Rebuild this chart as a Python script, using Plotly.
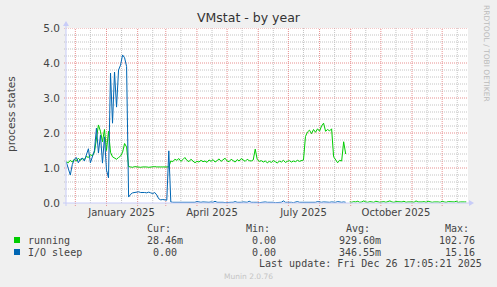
import plotly.graph_objects as go
import pandas as pd

# ---------------- data ----------------
START = "2024-11-22"
STEP_DAYS = 2
X_RANGE = ["2024-11-21 17:05:21", "2025-12-26 17:05:21"]

running = [
    1.18, 1.15, 1.22, 1.17, 1.25, 1.20, 1.28, 1.22, 1.27, 1.24,
    1.33, 1.30, 1.38, 1.35, 1.45, 1.90, 2.23, 2.05, 1.75, 2.10,
    1.50, 2.05, 1.45, 1.32, 1.28, 1.25, 1.30, 1.34, 1.45, 1.70,
    1.60, 1.04, 1.03, 1.02, 1.04, 1.03, 1.03, 1.02, 1.03, 1.04,
    1.03, 1.02, 1.03, 1.03, 1.04, 1.03, 1.02, 1.03, 1.03, 1.03,
    1.02, 1.03, 1.20, 1.18, 1.25, 1.22, 1.27, 1.19, 1.24, 1.30,
    1.22, 1.18, 1.25, 1.21, 1.15, 1.19, 1.17, 1.22, 1.18, 1.20,
    1.16, 1.23, 1.19, 1.24, 1.17, 1.21, 1.26, 1.19, 1.23, 1.28,
    1.20, 1.18, 1.25, 1.22, 1.17, 1.24, 1.20, 1.27, 1.22, 1.19,
    1.25, 1.21, 1.20, 1.23, 1.54, 1.24, 1.19, 1.21, 1.17, 1.20,
    1.15, 1.19, 1.16, 1.21, 1.18, 1.14, 1.20, 1.17, 1.22, 1.16,
    1.19, 1.21, 1.17, 1.20, 1.18, 1.22, 1.19, 1.21, 1.23, 1.90,
    2.03, 2.08, 1.98, 2.10, 2.02, 2.12, 2.05, 2.20, 2.28, 2.05,
    2.10, 2.06, 2.12, 1.32, 1.22, 1.15, 1.22, 1.20, 1.75, 1.40,
    None, 0.03, 0.02, 0.04, 0.03, 0.05, 0.02, 0.03, 0.06, 0.03,
    0.02, 0.04, 0.03, 0.02, 0.05, 0.03, 0.02, 0.03, 0.04, 0.02,
    0.03, 0.06, 0.03, 0.02, 0.04, 0.03, 0.02, 0.03, 0.05, 0.02,
    0.03, 0.04, 0.03, 0.02, 0.06, 0.03, 0.02, 0.03, 0.04, 0.02,
    0.05, 0.03, 0.02, 0.03, 0.04, 0.03, 0.02, 0.05, 0.03, 0.02,
    0.04, 0.03, 0.02, 0.03, 0.05, 0.02, 0.03, 0.04, 0.03, 0.03,
]

io_sleep = [
    1.17, 1.00, 0.80, 1.10, 1.25, 1.30, 1.15, 1.25, 1.28, 1.20,
    1.40, 1.55, 1.15, 1.30, 1.50, 2.14, 1.43, 1.94, 1.14, 1.89,
    0.94, 0.72, 3.71, 2.28, 3.74, 2.74, 3.80, 3.94, 4.23, 4.15,
    3.90, 0.17, 0.25, 0.29, 0.30, 0.31, 0.32, 0.30, 0.31, 0.30,
    0.29, 0.31, 0.29, 0.27, 0.30, 0.23, 0.12, 0.09, 0.10, 0.08,
    0.08, 1.49, 0.03, 0.02, 0.02, 0.03, 0.02, 0.01, 0.02, 0.03,
    0.02, 0.03, 0.02, 0.01, 0.02, 0.04, 0.02, 0.02, 0.03, 0.02,
    0.01, 0.02, 0.03, 0.02, 0.05, 0.02, 0.02, 0.03, 0.02, 0.01,
    0.02, 0.03, 0.02, 0.02, 0.04, 0.02, 0.01, 0.02, 0.03, 0.02,
    0.02, 0.05, 0.02, 0.02, 0.03, 0.02, 0.01, 0.02, 0.02, 0.03,
    0.02, 0.02, 0.04, 0.02, 0.01, 0.02, 0.03, 0.02, 0.06, 0.02,
    0.02, 0.03, 0.02, 0.01, 0.02, 0.04, 0.02, 0.02, 0.03, 0.02,
    0.02, 0.01, 0.02, 0.03, 0.02, 0.04, 0.02, 0.02, 0.03, 0.02,
    0.01, 0.02, 0.03, 0.02, 0.02, 0.04, 0.02, 0.02, 0.03, 0.02,
    None, None, None, None, None, None, None, None, None, None,
    None, None, None, None, None, None, None, None, None, None,
    None, None, None, None, None, None, None, None, None, None,
    None, None, None, None, None, None, None, None, None, None,
    None, None, None, None, None, None, None, None, None, None,
    None, None, None, None, None, None, None, None, None, None,
]

tick_dates = ["2025-01-16", "2025-04-16", "2025-07-16", "2025-10-16"]
tick_labels = ["January 2025", "April 2025", "July 2025", "October 2025"]

month_starts = ["2024-12-01", "2025-01-01", "2025-02-01", "2025-03-01", "2025-04-01",
                "2025-05-01", "2025-06-01", "2025-07-01", "2025-08-01", "2025-09-01",
                "2025-10-01", "2025-11-01", "2025-12-01"]
mid_months = ["2024-12-16", "2025-01-16", "2025-02-16", "2025-03-16", "2025-04-16",
              "2025-05-16", "2025-06-16", "2025-07-16", "2025-08-16", "2025-09-16",
              "2025-10-16", "2025-11-16", "2025-12-16"]
y_major = [1.0, 2.0, 3.0, 4.0, 5.0]
y_minor = [0.2, 0.4, 0.6, 0.8, 1.2, 1.4, 1.6, 1.8, 2.2, 2.4, 2.6, 2.8,
           3.2, 3.4, 3.6, 3.8, 4.2, 4.4, 4.6, 4.8]

legend_names = ["running", "I/O sleep"]
legend_colors = ["#00CC00", "#0066B3"]
legend_cur = ["28.46m", "0.00 "]
legend_min = ["0.00", "0.00"]
legend_avg = ["929.60m", "346.55m"]
legend_max = ["102.76", "15.16"]
legend_headers = ["Cur:", "Min:", "Avg:", "Max:"]

# ---------------- layout helpers ----------------
W, H = 497, 287
L, R, T, B = 66, 29, 28, 84
PW, PH = W - L - R, H - T - B


def px(x):
    return (x - L) / PW


def py(y):
    return (H - B - y) / PH


dates = pd.date_range(START, periods=len(running), freq=f"{STEP_DAYS}D")

fig = go.Figure()
fig.add_trace(go.Scatter(x=dates, y=running, mode="lines",
                         line=dict(color=legend_colors[0], width=1),
                         name=legend_names[0], hoverinfo="skip"))
fig.add_trace(go.Scatter(x=dates, y=io_sleep, mode="lines",
                         line=dict(color=legend_colors[1], width=1),
                         name=legend_names[1], hoverinfo="skip"))

FONT = "DejaVu Sans"
MONO = "DejaVu Sans Mono"
TXT = "#444444"
RED = "#E89090"
GREY = "#C4C4C4"
AXIS = "#C8CCF8"
DOT = "1px,1px"

shapes = []
for v in y_minor:
    shapes.append(dict(type="line", xref="paper", yref="y", x0=px(64), x1=1, y0=v, y1=v,
                       line=dict(color=GREY, width=1, dash=DOT), layer="below"))
for d in mid_months:
    shapes.append(dict(type="line", xref="x", yref="paper", x0=d, x1=d, y0=0, y1=1,
                       line=dict(color=GREY, width=1, dash=DOT), layer="below"))
for v in y_major:
    shapes.append(dict(type="line", xref="paper", yref="y", x0=px(64), x1=1, y0=v, y1=v,
                       line=dict(color=RED, width=1, dash=DOT), layer="below"))
for d in month_starts:
    shapes.append(dict(type="line", xref="x", yref="paper", x0=d, x1=d, y0=py(206), y1=1,
                       line=dict(color=RED, width=1, dash=DOT), layer="below"))
# axes with arrows
shapes.append(dict(type="line", xref="paper", yref="paper", x0=px(63), x1=px(470),
                   y0=0, y1=0, line=dict(color=AXIS, width=1)))
shapes.append(dict(type="line", xref="paper", yref="paper", x0=0, x1=0,
                   y0=py(206), y1=py(24), line=dict(color=AXIS, width=1)))
shapes.append(dict(type="path", xref="paper", yref="paper",
                   path=f"M {px(469)},{py(200)} L {px(474)},{py(203)} L {px(469)},{py(206)} Z",
                   fillcolor=AXIS, line=dict(color=AXIS, width=0)))
shapes.append(dict(type="path", xref="paper", yref="paper",
                   path=f"M {px(63)},{py(26)} L {px(66)},{py(21)} L {px(69)},{py(26)} Z",
                   fillcolor=AXIS, line=dict(color=AXIS, width=0)))

annotations = []
annotations.append(dict(text="process states", xref="paper", yref="paper",
                        x=px(11), y=py(114), textangle=-90, showarrow=False,
                        xanchor="center", yanchor="middle",
                        font=dict(family=FONT, size=10.5, color=TXT)))
annotations.append(dict(text="RRDTOOL / TOBI OETIKER", xref="paper", yref="paper",
                        x=px(487), y=py(53), textangle=90, showarrow=False,
                        xanchor="center", yanchor="middle",
                        font=dict(family=FONT, size=7.5, color="#BBBBBB")))

# legend block
header_right = [173, 272, 372, 471]
col_right = [185, 278, 383, 477]
for h, xr in zip(legend_headers, header_right):
    annotations.append(dict(text=h, xref="paper", yref="paper", x=px(xr), y=py(228),
                            xanchor="right", yanchor="middle", showarrow=False,
                            font=dict(family=MONO, size=10, color=TXT)))
row_y = [240, 252]
for k in range(len(legend_names)):
    yy = row_y[k]
    shapes.append(dict(type="rect", xref="paper", yref="paper",
                       x0=px(14), x1=px(20), y0=py(yy - 3), y1=py(yy + 3),
                       fillcolor=legend_colors[k], line=dict(width=0)))
    annotations.append(dict(text=legend_names[k], xref="paper", yref="paper",
                            x=px(26), y=py(yy), xanchor="left", yanchor="middle",
                            showarrow=False, font=dict(family=MONO, size=10, color=TXT)))
    for vals, xr in zip([legend_cur, legend_min, legend_avg, legend_max], col_right):
        annotations.append(dict(text=vals[k].replace(" ", "&nbsp;"), xref="paper", yref="paper",
                                x=px(xr), y=py(yy), xanchor="right", yanchor="middle",
                                showarrow=False, font=dict(family=MONO, size=10, color=TXT)))
annotations.append(dict(text="Last update: Fri Dec 26 17:05:21 2025", xref="paper", yref="paper",
                        x=px(484), y=py(263), xanchor="right", yanchor="middle",
                        showarrow=False, font=dict(family=MONO, size=10, color=TXT)))
annotations.append(dict(text="Munin 2.0.76", xref="paper", yref="paper",
                        x=px(248), y=py(276), xanchor="center", yanchor="middle",
                        showarrow=False, font=dict(family=FONT, size=7.5, color="#C4C4C4")))

fig.update_layout(
    width=W, height=H,
    margin=dict(l=L, r=R, t=T, b=B, pad=0),
    paper_bgcolor="#F0F0F0", plot_bgcolor="#FFFFFF",
    showlegend=False,
    title=dict(text="VMstat - by year", x=0.5, xref="container", xanchor="center",
               y=1 - 18 / H, yref="container", yanchor="middle",
               font=dict(family=FONT, size=12.5, color="#333333")),
    xaxis=dict(type="date", range=X_RANGE, showgrid=False, zeroline=False, showline=False,
               tickmode="array", tickvals=tick_dates, ticktext=tick_labels, ticks="",
               tickfont=dict(family=FONT, size=10, color=TXT), ticklabelstandoff=2),
    yaxis=dict(range=[0, 5], dtick=1, tick0=0, tickformat=".1f", showgrid=False,
               zeroline=False, showline=False, ticks="", ticklabelstandoff=5,
               tickfont=dict(family=FONT, size=10.5, color=TXT)),
    shapes=shapes,
    annotations=annotations,
)

fig.write_html("out.html")
